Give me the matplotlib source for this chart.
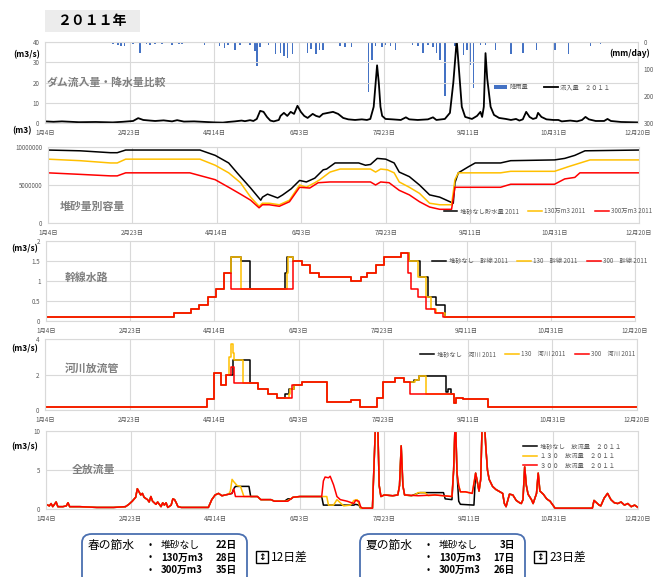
import matplotlib
matplotlib.use('Agg')
import matplotlib.pyplot as plt
from matplotlib.patches import Rectangle, FancyBboxPatch

plt.rcParams['font.family'] = ['Noto Sans CJK JP', 'DejaVu Sans']

W, H = 654, 577

# x axis: days counted from Jan 4
tick_days = [0, 50, 100, 150, 200, 250, 300, 350]
tick_labels = ['1月4日', '2月23日', '4月14日', '6月3日', '7月23日', '9月11日', '10月31日', '12月20日']

# ---- panel 1: inflow (m3/s) and rainfall (mm/day)
inflow = [(0, 0.8), (5, 0.6), (10, 0.8), (20, 0.4), (30, 0.5), (40, 0.3), (46, 0.6), (52, 1.0), (55, 2.4),
          (58, 1.5), (62, 1.2), (65, 1.0), (70, 1.3), (75, 0.8), (78, 1.4), (82, 0.7), (88, 0.8), (95, 0.5),
          (100, 0.3), (105, 0.2), (108, 0.5), (112, 0.8), (116, 1.2), (118, 0.9), (121, 1.4), (123, 1.0),
          (125, 2.0), (127, 6.0), (129, 5.5), (131, 3.0), (133, 1.2), (135, 0.8), (138, 1.5), (139, 3.5),
          (141, 5.0), (143, 3.5), (145, 5.5), (147, 4.5), (149, 8.5), (151, 5.5), (153, 3.5), (155, 2.5),
          (158, 4.5), (160, 3.5), (162, 3.0), (164, 4.5), (167, 5.0), (170, 5.5), (173, 4.5), (176, 2.5),
          (179, 1.8), (183, 1.5), (187, 1.8), (190, 1.5), (192, 2.0), (194, 8.0), (196, 28.5), (197, 20),
          (198, 8), (199, 3.5), (201, 2.0), (205, 1.8), (210, 1.5), (213, 2.8), (215, 1.8), (220, 1.5),
          (226, 1.8), (229, 2.8), (231, 1.5), (236, 2.0), (239, 5.0), (241, 20), (243, 41), (244, 30),
          (246, 8), (248, 3.0), (252, 2.0), (255, 3.5), (257, 5.5), (258, 3), (259, 8), (260, 34.5),
          (261, 22), (263, 8), (265, 4.0), (268, 2.5), (272, 2.0), (275, 1.5), (278, 2.0), (280, 1.2),
          (282, 1.8), (284, 5.5), (286, 3), (288, 2.0), (290, 2.5), (291, 5.0), (293, 3), (296, 1.8),
          (300, 1.5), (303, 1.5), (305, 0.8), (310, 1.2), (314, 0.8), (317, 1.5), (319, 3.0), (321, 1.8),
          (325, 1.0), (330, 1.0), (332, 2.0), (334, 1.0), (340, 0.5), (345, 0.4), (350, 0.3)]

rain_day = [3, 8, 12, 28, 40, 43, 45, 47, 52, 56, 60, 62, 65, 69, 73, 75, 79, 81, 94, 103, 106, 108, 112, 115,
            121, 124, 125, 127, 132, 136, 139, 141, 143, 146, 155, 157, 160, 162, 164, 174, 177, 181, 191,
            193, 195, 199, 201, 204, 207, 217, 220, 223, 226, 229, 231, 233, 236, 242, 247, 249, 251, 253,
            257, 260, 266, 275, 282, 290, 301, 309, 322, 328]
rain_mm = [3, 3, 3, 3, 8, 11, 15, 15, 7, 40, 8, 10, 6, 8, 5, 10, 6, 8, 11, 15, 22, 10, 30, 12,
           11, 35, 88, 20, 10, 44, 40, 50, 58, 45, 42, 25, 44, 30, 28, 15, 20, 18, 185,
           65, 15, 18, 12, 15, 30, 10, 15, 40, 10, 20, 40, 66, 200, 15, 48, 30, 85, 170,
           12, 10, 30, 45, 40, 30, 30, 45, 15, 8]

# ---- panel 2: storage by sediment volume (m3, in millions)
stor_none = [(0, 9.6), (19, 9.5), (37, 9.25), (41, 9.25), (46, 9.6), (90, 9.6), (99, 8.9), (107, 7.9),
             (112, 6.6), (120, 4.6), (126, 3.0), (127, 3.4), (130, 3.8), (136, 3.3), (139, 3.7), (144, 4.5),
             (149, 5.6), (153, 5.4), (158, 5.9), (163, 7.0), (165, 7.1), (170, 7.9), (184, 7.9), (188, 7.6),
             (191, 7.7), (195, 8.5), (200, 8.4), (205, 7.9), (208, 6.7), (214, 6.1), (220, 5.0), (226, 3.7),
             (232, 3.4), (238, 2.8), (240, 2.6), (241, 5.3), (243, 6.6), (249, 7.4), (253, 7.9), (268, 7.9),
             (274, 8.2), (300, 8.3), (306, 8.5), (312, 8.9), (318, 9.5), (350, 9.6)]
stor_130 = [(0, 8.4), (19, 8.2), (37, 7.9), (41, 7.9), (46, 8.4), (90, 8.4), (99, 7.6), (107, 6.6),
            (114, 5.3), (120, 3.4), (125, 2.2), (127, 2.6), (131, 2.6), (137, 2.4), (143, 3.0), (149, 5.0),
            (153, 4.7), (158, 5.3), (161, 5.7), (167, 6.7), (173, 7.1), (191, 7.1), (194, 6.7), (197, 7.1),
            (201, 7.0), (205, 6.6), (208, 5.4), (214, 4.7), (220, 3.9), (226, 2.6), (232, 2.4), (239, 2.4),
            (241, 5.7), (243, 6.6), (268, 6.6), (274, 6.8), (300, 6.8), (308, 7.4), (321, 8.3), (350, 8.3)]
stor_300 = [(0, 6.6), (19, 6.4), (37, 6.2), (41, 6.2), (46, 6.6), (84, 6.6), (99, 5.7), (107, 4.7),
            (114, 3.8), (120, 3.0), (125, 2.0), (127, 2.4), (131, 2.4), (137, 2.2), (143, 2.8), (149, 4.7),
            (155, 4.6), (160, 5.3), (167, 5.4), (191, 5.4), (194, 5.0), (197, 5.4), (202, 5.3), (208, 4.3),
            (214, 3.7), (220, 2.8), (226, 2.1), (232, 1.8), (239, 1.8), (241, 4.7), (268, 4.7), (274, 5.1),
            (300, 5.1), (306, 5.8), (312, 6.0), (315, 6.6), (350, 6.6)]

# ---- panel 3: main canal (m3/s), step values
canal_300 = [(0, 0.1), (76, 0.2), (86, 0.3), (91, 0.4), (96, 0.6), (101, 0.8), (106, 1.2), (110, 0.8),
             (147, 1.5), (152, 1.4), (157, 1.2), (162, 1.1), (181, 1.0), (187, 1.1), (191, 1.2), (196, 1.4),
             (201, 1.6), (211, 1.7), (215, 1.2), (217, 0.8), (221, 0.6), (226, 0.3), (231, 0.2), (236, 0.1),
             (350, 0.1)]
canal_130 = [(0, 0.1), (76, 0.2), (86, 0.3), (91, 0.4), (96, 0.6), (101, 0.8), (106, 1.2), (110, 1.6),
             (116, 0.8), (143, 1.2), (144, 1.6), (147, 1.5), (152, 1.4), (157, 1.2), (162, 1.1), (181, 1.0),
             (187, 1.1), (191, 1.2), (196, 1.4), (201, 1.6), (211, 1.7), (216, 1.5), (221, 1.1), (226, 0.6),
             (229, 0.3), (232, 0.2), (237, 0.1), (350, 0.1)]
canal_none = [(0, 0.1), (76, 0.2), (86, 0.3), (91, 0.4), (96, 0.6), (101, 0.8), (106, 1.2), (110, 1.6),
              (116, 1.5), (121, 0.8), (142, 1.2), (143, 1.6), (147, 1.5), (152, 1.4), (157, 1.2), (162, 1.1),
              (181, 1.0), (187, 1.1), (191, 1.2), (196, 1.4), (201, 1.6), (211, 1.7), (216, 1.5), (222, 1.1),
              (227, 0.6), (232, 0.4), (237, 0.1), (350, 0.1)]

# ---- panel 4: river outlet (m3/s), step values
river_300 = [(0, 0.15), (96, 0.6), (100, 2.1), (104, 1.4), (107, 2.0), (110, 2.4), (112, 1.5), (126, 1.2),
             (132, 0.9), (137, 0.7), (146, 1.4), (152, 1.6), (167, 0.45), (181, 0.55), (186, 0.15), (196, 0.7),
             (200, 1.55), (207, 1.8), (212, 1.55), (216, 0.9), (242, 0.4), (243, 0.7), (247, 0.6), (262, 0.15),
             (350, 0.15)]
river_130 = [(0, 0.15), (96, 0.6), (100, 2.1), (104, 1.4), (107, 2.0), (109, 3.0), (110, 3.7), (111, 3.2),
             (112, 2.8), (117, 1.5), (126, 1.2), (132, 0.9), (137, 0.7), (144, 0.9), (145, 1.2), (147, 1.4),
             (152, 1.6), (167, 0.45), (181, 0.55), (186, 0.15), (196, 0.7), (200, 1.55), (207, 1.8),
             (212, 1.55), (216, 1.6), (219, 1.7), (221, 1.9), (225, 0.9), (242, 0.4), (243, 0.7), (247, 0.6),
             (262, 0.15), (350, 0.15)]
river_none = [(0, 0.15), (96, 0.6), (100, 2.1), (104, 1.4), (107, 2.0), (111, 2.8), (121, 1.5), (126, 1.2),
              (132, 0.9), (137, 0.7), (142, 0.9), (144, 1.2), (147, 1.4), (152, 1.6), (167, 0.45), (181, 0.55),
              (186, 0.15), (196, 0.7), (200, 1.55), (207, 1.8), (212, 1.55), (218, 1.7), (221, 1.9), (237, 1.0),
              (238, 1.2), (240, 0.9), (242, 0.4), (243, 0.7), (247, 0.6), (262, 0.15), (350, 0.15)]

# ---- panel 5: total release (m3/s)
total_300 = [(0, 0.6), (2, 0.4), (3, 0.7), (4, 0.3), (6, 0.9), (7, 0.3), (10, 0.3), (12, 0.4), (13, 0.8),
             (14, 0.3), (20, 0.3), (30, 0.2), (40, 0.2), (47, 0.3), (49, 0.6), (51, 1.0), (53, 1.5), (54, 2.6),
             (55, 2.2), (56, 1.8), (57, 2.0), (58, 1.5), (60, 1.2), (61, 0.9), (62, 1.6), (63, 1.0), (65, 0.6),
             (66, 0.9), (68, 0.3), (69, 0.8), (70, 0.5), (71, 0.8), (72, 0.2), (74, 0.5), (75, 1.3), (76, 1.2),
             (77, 0.8), (78, 0.3), (80, 0.2), (90, 0.2), (96, 0.2), (98, 1.2), (100, 1.8), (102, 2.0),
             (104, 1.7), (106, 1.8), (108, 1.9), (110, 2.0), (111, 2.6), (112, 1.6), (125, 1.6), (127, 1.2),
             (133, 1.2), (135, 1.0), (143, 1.0), (146, 1.5), (150, 1.6), (163, 1.6), (164, 3.6), (165, 4.1),
             (167, 4.0), (168, 4.2), (170, 3.1), (172, 1.6), (174, 1.2), (178, 1.0), (182, 0.7), (183, 1.1),
             (185, 1.0), (186, 0.3), (187, 0.1), (193, 0.1), (194, 6), (195, 12), (196, 12), (197, 3),
             (198, 1.6), (200, 1.8), (205, 1.7), (208, 1.8), (209, 3), (210, 8.1), (211, 3), (212, 1.8),
             (220, 1.7), (230, 1.8), (240, 1.6), (241, 5), (242, 12), (243, 4.6), (244, 3.0), (245, 2.2),
             (248, 2.2), (252, 2.0), (254, 4.6), (255, 3.5), (256, 2.3), (257, 3.8), (258, 12), (259, 12),
             (260, 8), (261, 5.0), (262, 3.8), (264, 2.9), (266, 2.5), (270, 2.0), (271, 0.7), (272, 0.3),
             (274, 1.9), (276, 1.8), (278, 1.1), (280, 0.8), (281, 0.7), (282, 1.2), (283, 5.4), (284, 3.0),
             (285, 1.9), (287, 1.2), (288, 0.7), (290, 2.0), (291, 4.6), (292, 2.3), (294, 1.9), (296, 1.3),
             (298, 1.0), (300, 0.4), (301, 0.1), (323, 0.1), (324, 1.1), (325, 0.9), (327, 0.5), (328, 0.4),
             (330, 1.4), (332, 2.0), (333, 1.6), (334, 1.2), (336, 0.8), (338, 0.7), (340, 0.9), (342, 0.5),
             (344, 0.7), (346, 0.3), (348, 0.5), (350, 0.2)]
# stretches where the other two cases differ from the 300 case
total_none_diff = [
    [(111, 2.6), (112, 2.9), (120, 2.9), (121, 1.6)],
    [(141, 1.0), (143, 1.3), (145, 1.3), (146, 1.5)],
    [(163, 1.6), (164, 0.5), (182, 0.5), (183, 0.6), (185, 0.5), (186, 0.1)],
    [(216, 1.7), (221, 2.1), (235, 2.1), (236, 1.3), (240, 1.2)],
    [(244, 1.0), (245, 0.6), (253, 0.5)],
]
total_130_diff = [
    [(108, 1.9), (109, 2.3), (110, 3.8), (111, 3.5), (113, 3.0), (115, 2.9), (117, 1.6)],
    [(142, 1.0), (144, 1.2), (146, 1.5)],
    [(163, 1.6), (166, 1.6), (167, 0.5), (170, 0.5), (172, 1.2), (174, 0.8), (176, 0.4), (180, 0.5),
     (182, 1.1), (184, 1.2), (186, 0.1)],
    [(216, 1.7), (218, 1.8), (220, 2.1), (224, 2.1), (226, 1.7)],
]

BLACK, ORANGE, RED, BLUE = '#000000', '#ffc000', '#ff0000', '#4472c4'
GRAY = '#595959'


def merge(base, diffs):
    pts = list(base)
    for seg in diffs:
        lo, hi = seg[0][0], seg[-1][0]
        pts = [p for p in pts if p[0] < lo or p[0] > hi] + seg
    return sorted(pts)


def px_axes(l, t, r, b):
    return fig.add_axes([l / W, 1 - b / H, (r - l) / W, (b - t) / H])


def style(ax, ylim, yticks, ylabels=None):
    ax.set_xlim(0, 350)
    ax.set_ylim(*ylim)
    ax.set_xticks(tick_days)
    ax.set_xticklabels(tick_labels)
    ax.set_yticks(yticks)
    if ylabels is not None:
        ax.set_yticklabels(ylabels)
    ax.grid(True, color='#d9d9d9', lw=0.8)
    ax.set_axisbelow(True)
    ax.tick_params(length=0, labelsize=4.5, labelcolor=GRAY, pad=4)
    for s in ax.spines.values():
        s.set_color('#d9d9d9')
        s.set_linewidth(0.8)


def xy(series):
    return [p[0] for p in series], [p[1] for p in series]


def fig_text(x, y, s, **kw):
    fig.text(x / W, 1 - y / H, s, **kw)


def legend(ax, cx, cy, ncol):
    leg = ax.legend(ncol=ncol, fontsize=4.5, frameon=False, loc='center',
                    bbox_to_anchor=(cx / W, 1 - cy / H), bbox_transform=fig.transFigure,
                    handlelength=2.2, handletextpad=0.4, columnspacing=1.5,
                    labelspacing=0.25, borderpad=0)
    for t in leg.get_texts():
        t.set_color(GRAY)


fig = plt.figure(figsize=(W / 100, H / 100), dpi=100)

# header box
fig.patches.append(Rectangle((45 / W, 1 - 32 / H), 95 / W, 22 / H, transform=fig.transFigure,
                             facecolor='#ececec', edgecolor='none'))
fig_text(92, 21, '２０１１年', fontsize=10, weight='bold', ha='center', va='center')

title_kw = dict(fontsize=7.8, weight='bold', color='#7f7f7f', va='center')
unit_kw = dict(fontsize=6, weight='bold', ha='center', va='center')

# panel 1
ax1 = px_axes(45, 42, 638, 123)
ax1r = ax1.twinx()
ax1r.bar(rain_day, rain_mm, width=0.9, color=BLUE, label='降雨量')
ax1r.set_ylim(300, 0)
ax1r.set_yticks([0, 100, 200, 300])
ax1r.tick_params(length=0, labelsize=4.5, labelcolor=GRAY, pad=4)
for s in ax1r.spines.values():
    s.set_visible(False)
ax1.set_zorder(ax1r.get_zorder() + 1)
ax1.patch.set_visible(False)
ax1.plot(*xy(inflow), color=BLACK, lw=1.3, label='流入量　２０１１')
style(ax1, (0, 40), [0, 10, 20, 30, 40])
h1, l1 = ax1r.get_legend_handles_labels()
h2, l2 = ax1.get_legend_handles_labels()
leg = ax1.legend(h1 + h2, l1 + l2, ncol=2, fontsize=4.5, frameon=False, loc='center',
                 bbox_to_anchor=(552 / W, 1 - 87 / H), bbox_transform=fig.transFigure,
                 handlelength=2.2, handletextpad=0.4, columnspacing=2.5, borderpad=0)
for t in leg.get_texts():
    t.set_color(GRAY)
fig_text(47, 83, 'ダム流入量・降水量比較', **title_kw)
fig_text(27, 55, '(m3/s)', **unit_kw)
fig_text(630, 53, '(mm/day)', **unit_kw)

# panel 2
ax2 = px_axes(48, 147, 639, 223)
ax2.plot(*xy(stor_none), color=BLACK, lw=1.1, label='堆砂なし貯水量 2011')
ax2.plot(*xy(stor_130), color=ORANGE, lw=1.1, label='130万m3 2011')
ax2.plot(*xy(stor_300), color=RED, lw=1.1, label='300万m3 2011')
style(ax2, (0, 10), [0, 5, 10], ['0', '5000000', '10000000'])
legend(ax2, 548, 211, 3)
fig_text(60, 207, '堆砂量別容量', **title_kw)
fig_text(22, 131, '(m3)', **unit_kw)

# panel 3
ax3 = px_axes(46, 241, 635, 321)
ax3.plot(*xy(canal_none), color=BLACK, lw=1.1, drawstyle='steps-post', label='堆砂なし　幹線 2011')
ax3.plot(*xy(canal_130), color=ORANGE, lw=1.1, drawstyle='steps-post', label='130　幹線 2011')
ax3.plot(*xy(canal_300), color=RED, lw=1.1, drawstyle='steps-post', label='300　幹線 2011')
style(ax3, (0, 2), [0, 0.5, 1, 1.5, 2], ['0', '0.5', '1', '1.5', '2'])
legend(ax3, 540, 261, 3)
fig_text(65, 278, '幹線水路', **title_kw)
fig_text(25, 249, '(m3/s)', **unit_kw)

# panel 4
ax4 = px_axes(45, 339, 637, 410)
ax4.plot(*xy(river_none), color=BLACK, lw=1.1, drawstyle='steps-post', label='堆砂なし　河川 2011')
ax4.plot(*xy(river_130), color=ORANGE, lw=1.1, drawstyle='steps-post', label='130　河川 2011')
ax4.plot(*xy(river_300), color=RED, lw=1.1, drawstyle='steps-post', label='300　河川 2011')
style(ax4, (0, 4), [0, 2, 4])
legend(ax4, 528, 354, 3)
fig_text(65, 369, '河川放流管', **title_kw)
fig_text(25, 349, '(m3/s)', **unit_kw)

# panel 5
ax5 = px_axes(46, 431, 638, 509)
ax5.plot(*xy(merge(total_300, total_none_diff)), color=BLACK, lw=1.1, label='堆砂なし　放流量　２０１１')
ax5.plot(*xy(merge(total_300, total_130_diff)), color=ORANGE, lw=1.1, label='１３０　放流量　２０１１')
ax5.plot(*xy(total_300), color=RED, lw=1.1, label='３００　放流量　２０１１')
style(ax5, (0, 10), [0, 5, 10])
legend(ax5, 572, 456, 1)
fig_text(72, 470, '全放流量', **title_kw)
fig_text(25, 447, '(m3/s)', **unit_kw)

# summary boxes at the bottom
summaries = [
    (82, '春の節水', [('堆砂なし', '22日'), ('130万m3', '28日'), ('300万m3', '35日')], '12日差'),
    (360, '夏の節水', [('堆砂なし', '3日'), ('130万m3', '17日'), ('300万m3', '26日')], '23日差'),
]
for x0, head, rows, diff in summaries:
    fig.patches.append(FancyBboxPatch((x0 / W, 1 - 585 / H), 165 / W, 51 / H,
                                      boxstyle='round,pad=0,rounding_size=0.015',
                                      transform=fig.transFigure, facecolor='white',
                                      edgecolor='#4a6fb0', lw=1.3))
    fig_text(x0 + 6, 545, head, fontsize=8.5, va='center')
    for i, (name, days) in enumerate(rows):
        y = 545 + i * 12.5
        fig_text(x0 + 67, y, '•', fontsize=7, va='center')
        fig_text(x0 + 79, y, name, fontsize=7, weight='bold' if i else 'normal', va='center')
        fig_text(x0 + 155, y, days, fontsize=7, weight='bold', va='center', ha='right')
    bx = x0 + 174
    fig.patches.append(Rectangle((bx / W, 1 - 563 / H), 12 / W, 12 / H, transform=fig.transFigure,
                                 facecolor='white', edgecolor='black', lw=1.0))
    fig_text(bx + 6, 557, '↕', fontsize=6.5, weight='bold', ha='center', va='center',
             family=['DejaVu Sans'])
    fig_text(bx + 15, 557, diff, fontsize=8.5, va='center')

fig.savefig('out.png', dpi=100)
